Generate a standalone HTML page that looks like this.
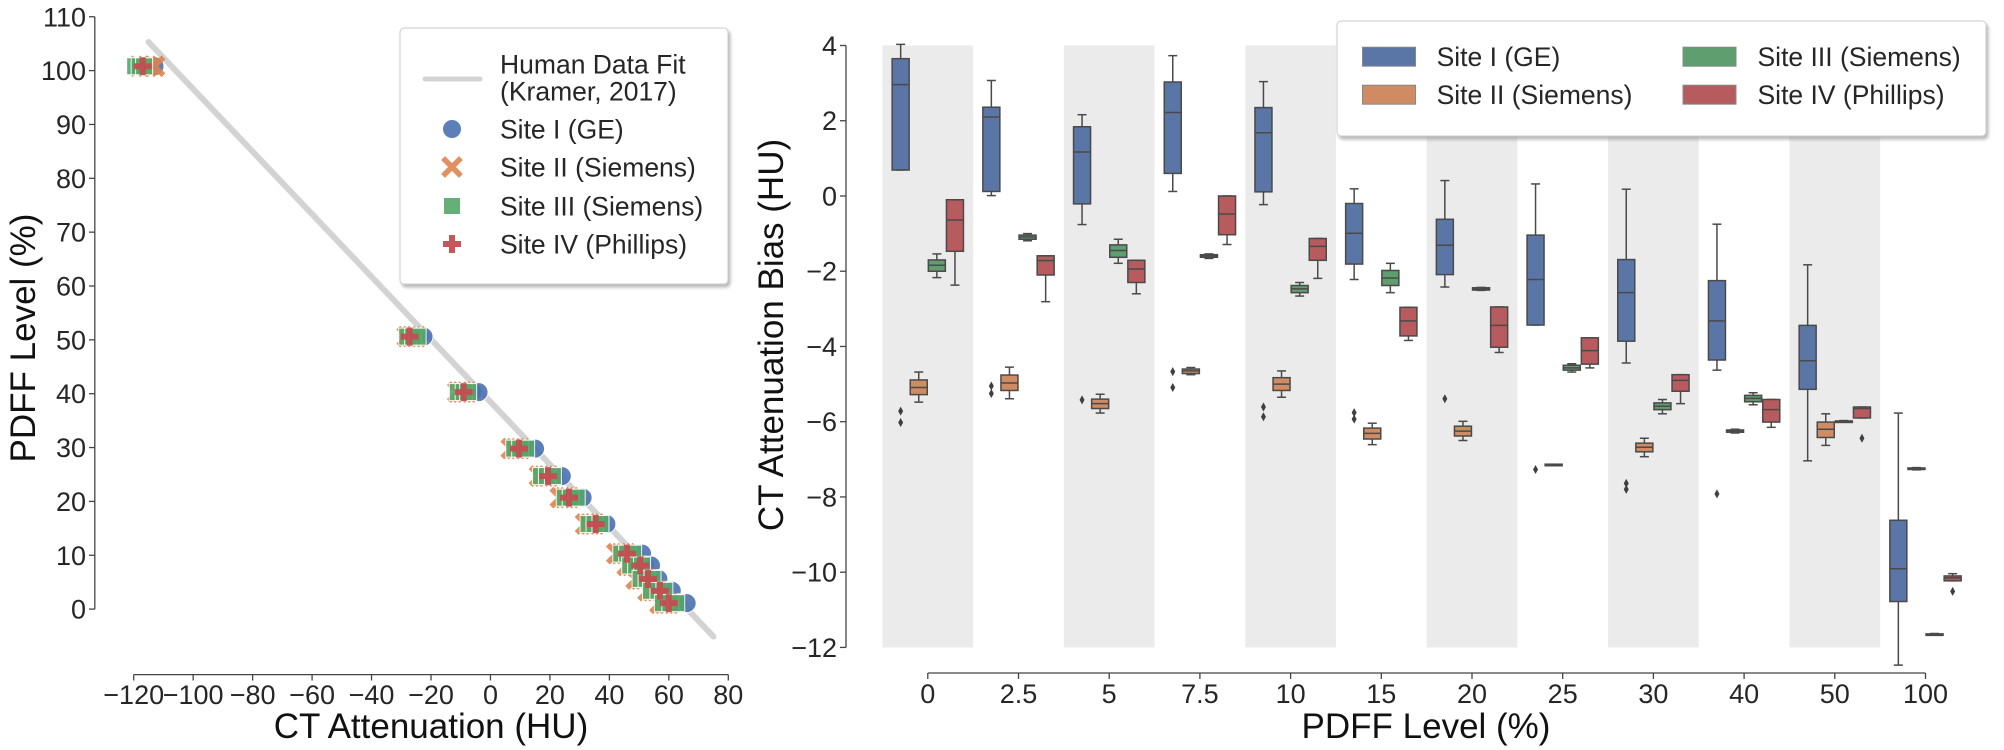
<!DOCTYPE html>
<html><head><meta charset="utf-8"><style>
html,body{margin:0;padding:0;background:#fff}
svg{display:block;font-family:"Liberation Sans",sans-serif}
</style></head><body>
<svg id="fig" width="2004" height="750" viewBox="0 0 2004 750" xmlns="http://www.w3.org/2000/svg">
<defs>
<filter id="sh" x="-5%" y="-5%" width="115%" height="125%"><feDropShadow dx="2" dy="3" stdDeviation="1.5" flood-color="#888" flood-opacity="0.6"/></filter>
</defs>
<g id="left"></g>
<g id="right"></g>
</svg>
<script>
// ===== Left scatter data =====
const pdffLevels = [100.8, 50.6, 40.3, 29.8, 24.7, 20.7, 15.8, 10.3, 8.1, 5.6, 3.4, 1.1];
const siteGE = [[-117,-115,-113],[-25.5,-24,-22.5],[-8,-6,-4],[10,12.5,15],[19,21.5,24],[27,29,31],[35,37,39],[46,48.5,51],[50,52,54],[52.5,54.5,56.5],[56,58.5,61],[60,63,66]];
const siteSiemensII = [[-118,-115.5,-113],[-28,-26.5,-25],[-11,-9.5,-8],[7,8.5,10],[16.5,18,19.5],[23.5,25,26.5],[32,33.5,35],[42.5,44,45.5],[46,47.5,49],[49,50.5,52],[53,54.5,56],[57,58.5,60]];
const siteSiemensIII = [[-119.5,-118,-116.5],[-28,-26,-24.5],[-11,-9,-7.5],[8,10,12],[17,19,21],[25,27,29],[33,35,37],[44,46,48],[47,49,51],[50.5,52.5,54.5],[54,56.5,58.5],[58,60.5,62.5]];
const sitePhillips = [[-117],[-27.2],[-9],[9.6],[19.4],[26.4],[35.4],[45.9],[50.4],[53],[57],[60]];
const fitX = [-115, 75];
const fitY = [105.3, -5.1];
const leftXTicks = [-120,-100,-80,-60,-40,-20,0,20,40,60,80];
const leftYTicks = [0,10,20,30,40,50,60,70,80,90,100,110];

// ===== Right boxplot data =====
const categories = ["0","2.5","5","7.5","10","15","20","25","30","40","50","100"];
const geQ1  = [0.69,0.12,-0.21,0.60,0.11,-1.81,-2.09,-3.43,-3.86,-4.36,-5.14,-10.78];
const geMed = [2.96,2.10,1.17,2.22,1.68,-0.99,-1.31,-2.22,-2.57,-3.32,-4.38,-9.91];
const geQ3  = [3.65,2.36,1.84,3.03,2.35,-0.20,-0.62,-1.04,-1.69,-2.25,-3.44,-8.62];
const geLo  = [0.69,0.01,-0.76,0.12,-0.23,-2.22,-2.42,-3.43,-4.44,-4.63,-7.04,-12.47];
const geHi  = [4.03,3.07,2.16,3.73,3.04,0.19,0.41,0.32,0.18,-0.75,-1.83,-5.77];
const geOut = [[-5.72,-6.02],[-5.05,-5.25],[-5.42],[-4.67,-5.09],[-5.61,-5.87],[-5.76,-5.93],[-5.39],[-7.27],[-7.64,-7.80],[-7.92],[],[]];
const s2Q1  = [-5.28,-5.17,-5.65,-4.72,-5.17,-6.46,-6.38,-7.17,-6.80,-6.28,-6.42,-7.27];
const s2Med = [-5.09,-4.97,-5.52,-4.65,-5.00,-6.31,-6.25,-7.15,-6.68,-6.25,-6.20,-7.25];
const s2Q3  = [-4.89,-4.76,-5.40,-4.60,-4.83,-6.17,-6.12,-7.13,-6.57,-6.22,-6.01,-7.23];
const s2Lo  = [-5.48,-5.39,-5.77,-4.75,-5.35,-6.61,-6.50,-7.17,-6.93,-6.30,-6.63,-7.28];
const s2Hi  = [-4.68,-4.55,-5.27,-4.56,-4.65,-6.04,-5.99,-7.13,-6.44,-6.20,-5.79,-7.22];
const s2Out = [[],[],[],[],[],[],[],[],[],[],[],[]];
const s3Q1  = [-2.00,-1.15,-1.63,-1.63,-2.57,-2.38,-2.50,-4.63,-5.68,-5.47,-6.00,-11.66];
const s3Med = [-1.84,-1.09,-1.45,-1.59,-2.47,-2.18,-2.47,-4.57,-5.59,-5.38,-5.99,-11.65];
const s3Q3  = [-1.70,-1.04,-1.30,-1.56,-2.38,-1.98,-2.44,-4.50,-5.50,-5.30,-5.98,-11.64];
const s3Lo  = [-2.17,-1.19,-1.79,-1.66,-2.66,-2.57,-2.51,-4.68,-5.79,-5.55,-6.00,-11.67];
const s3Hi  = [-1.54,-1.00,-1.15,-1.54,-2.30,-1.79,-2.43,-4.46,-5.41,-5.23,-5.97,-11.63];
const s3Out = [[],[],[],[],[],[],[],[],[],[],[],[]];
const s4Q1  = [-1.47,-2.10,-2.30,-1.03,-1.71,-3.72,-4.02,-4.47,-5.19,-6.01,-5.90,-10.23];
const s4Med = [-0.64,-1.72,-1.94,-0.48,-1.34,-3.32,-3.44,-4.11,-4.90,-5.68,-5.65,-10.15];
const s4Q3  = [-0.10,-1.59,-1.71,0.00,-1.13,-2.96,-2.95,-3.77,-4.75,-5.41,-5.61,-10.10];
const s4Lo  = [-2.37,-2.81,-2.60,-1.29,-2.19,-3.84,-4.16,-4.57,-5.52,-6.15,-5.90,-10.23];
const s4Hi  = [-0.10,-1.59,-1.71,0.00,-1.13,-2.96,-2.95,-3.77,-4.75,-5.41,-5.61,-10.04];
const s4Out = [[],[],[],[],[],[],[],[],[],[],[-6.44],[-10.51]];
const rightYTicks = [4,2,0,-2,-4,-6,-8,-10,-12];

const NS = "http://www.w3.org/2000/svg";
function mk(parent, tag, attrs, text){
  const e = document.createElementNS(NS, tag);
  for (const k in attrs) e.setAttribute(k, attrs[k]);
  if (text !== undefined) e.textContent = text;
  parent.appendChild(e);
  return e;
}
function fmt(v){ return (v<0 ? "\u2212" + Math.abs(v) : String(v)); }

// ---------- Left chart ----------
const L = document.getElementById('left');
const xL = v => 133.7 + (v + 120) * 2.973;
const yL = v => 609.1 - v * 5.385;

let el;
el = mk(L,'line',{x1:xL(fitX[0]),y1:yL(fitY[0]),x2:xL(fitX[1]),y2:yL(fitY[1]),stroke:'#d3d3d3','stroke-width':6,'stroke-linecap':'round'});



const C = {b:'#4c72b0', o:'#dd8452', g:'#55a868', r:'#c44e52'};
function circle(g,x,y){ return mk(g,'circle',{cx:x,cy:y,r:9.5,fill:C.b,stroke:'#fff','stroke-width':1,opacity:0.9});}
function xmark(g,x,y){ const s=7; return mk(g,'path',{d:`M${x-s},${y-s}L${x+s},${y+s}M${x-s},${y+s}L${x+s},${y-s}`,stroke:C.o,'stroke-width':5.5,'stroke-linecap':'square',opacity:0.9});}
function square(g,x,y){ return mk(g,'rect',{x:x-8.5,y:y-8.5,width:17,height:17,fill:C.g,stroke:'#fff','stroke-width':1,opacity:0.9});}
function plus(g,x,y){ const s=9; return mk(g,'path',{d:`M${x-s},${y}L${x+s},${y}M${x},${y-s}L${x},${y+s}`,stroke:C.r,'stroke-width':6,opacity:0.95});}

const sets = [[siteGE,circle,'site-i-point'],[siteSiemensII,xmark,'site-ii-point'],[siteSiemensIII,square,'site-iii-point'],[sitePhillips,plus,'site-iv-point']];
sets.forEach(([arr,fn,name])=>{
  const g = mk(L,'g',{});
  
  
  arr.forEach((xs,i)=>{ xs.forEach(xv=>{
    const e = fn(g, xL(xv), yL(pdffLevels[i]));
    
    
  });});
});

// axes left
el = mk(L,'line',{x1:94.8,y1:yL(110),x2:94.8,y2:yL(0),stroke:'#444','stroke-width':1.3});


leftYTicks.forEach(t=>{
  mk(L,'line',{x1:89,y1:yL(t),x2:94.8,y2:yL(t),stroke:'#444','stroke-width':1.3});
  const e = mk(L,'text',{x:86,y:yL(t)+9.5,'font-size':27,'text-anchor':'end',fill:'#262626'},fmt(t));
  
  
});
el = mk(L,'line',{x1:xL(-120),y1:674.6,x2:xL(80),y2:674.6,stroke:'#444','stroke-width':1.3});


leftXTicks.forEach(t=>{
  mk(L,'line',{x1:xL(t),y1:674.6,x2:xL(t),y2:680.5,stroke:'#444','stroke-width':1.3});
  const e = mk(L,'text',{x:xL(t),y:704,'font-size':27,'text-anchor':'middle',fill:'#262626'},fmt(t));
  
  
});
el = mk(L,'text',{x:431,y:738,'font-size':35,'text-anchor':'middle',fill:'#111'},'CT Attenuation (HU)');


el = mk(L,'text',{x:0,y:0,'font-size':35,'text-anchor':'middle',fill:'#111',transform:'translate(35,338) rotate(-90)'},'PDFF Level (%)');



// left legend
const LG = mk(L,'g',{});


mk(LG,'rect',{x:400,y:28,width:328,height:256,rx:4,fill:'#fff',stroke:'#ccc','stroke-width':1,filter:'url(#sh)'});
mk(LG,'line',{x1:425,y1:79,x2:480,y2:79,stroke:'#d3d3d3','stroke-width':5,'stroke-linecap':'round'});
circle(LG,452,129); xmark(LG,452,167); square(LG,452,206); plus(LG,452,244);
[['Human Data Fit',64],['(Kramer, 2017)',91],['Site I (GE)',129],['Site II (Siemens)',167],['Site III (Siemens)',206],['Site IV (Phillips)',244]].forEach(([t,y])=>{
  const e = mk(LG,'text',{x:500,y:y+9.5,'font-size':26.5,fill:'#262626'},t);
  
  
});

// ---------- Right chart ----------
const R = document.getElementById('right');
const catW = 90.7;
const xR = (c,h) => 927.8 + c * catW + (h - 1.5) * 18.1;
const yR = v => 45.5 + (4 - v) * 37.62;

categories.forEach((c,i)=>{
  if (i % 2 === 0){
    const e = mk(R,'rect',{x:xR(i,1.5)-catW/2,y:yR(4),width:catW,height:yR(-12)-yR(4),fill:'#ebebeb'});
    
    
  }
});

const fills = ['#5a76a6','#d08b63','#5f9e6e','#b75b5e'];
const series = [
  [geQ1,geMed,geQ3,geLo,geHi,geOut,'site-i'],
  [s2Q1,s2Med,s2Q3,s2Lo,s2Hi,s2Out,'site-ii'],
  [s3Q1,s3Med,s3Q3,s3Lo,s3Hi,s3Out,'site-iii'],
  [s4Q1,s4Med,s4Q3,s4Lo,s4Hi,s4Out,'site-iv']
];
const edge = '#4a4a4a';
series.forEach(([q1,md,q3,lo,hi,out,name],h)=>{
  categories.forEach((c,i)=>{
    const g = mk(R,'g',{});
    
    
    const cx = xR(i,h), bw = 17;
    mk(g,'line',{x1:cx,y1:yR(q3[i]),x2:cx,y2:yR(hi[i]),stroke:edge,'stroke-width':1.5});
    mk(g,'line',{x1:cx,y1:yR(q1[i]),x2:cx,y2:yR(lo[i]),stroke:edge,'stroke-width':1.5});
    mk(g,'line',{x1:cx-4.5,y1:yR(hi[i]),x2:cx+4.5,y2:yR(hi[i]),stroke:edge,'stroke-width':1.5});
    mk(g,'line',{x1:cx-4.5,y1:yR(lo[i]),x2:cx+4.5,y2:yR(lo[i]),stroke:edge,'stroke-width':1.5});
    const top = yR(q3[i]), bot = yR(q1[i]);
    mk(g,'rect',{x:cx-bw/2,y:top,width:bw,height:Math.max(bot-top,1.5),fill:fills[h],stroke:edge,'stroke-width':1.5});
    mk(g,'line',{x1:cx-bw/2,y1:yR(md[i]),x2:cx+bw/2,y2:yR(md[i]),stroke:edge,'stroke-width':1.5});
    out[i].forEach(v=>{
      const d = mk(g,'path',{d:`M${cx},${yR(v)-4.5}L${cx+2.5},${yR(v)}L${cx},${yR(v)+4.5}L${cx-2.5},${yR(v)}Z`,fill:'#3f3f3f'});
      
      
    });
  });
});

// right axes
el = mk(R,'line',{x1:846,y1:yR(4),x2:846,y2:yR(-12),stroke:'#444','stroke-width':1.3});


rightYTicks.forEach(t=>{
  mk(R,'line',{x1:840,y1:yR(t),x2:846,y2:yR(t),stroke:'#444','stroke-width':1.3});
  const e = mk(R,'text',{x:837,y:yR(t)+9.5,'font-size':27,'text-anchor':'end',fill:'#262626'},fmt(t));
  
  
});
el = mk(R,'line',{x1:xR(0,1.5),y1:673,x2:xR(11,1.5),y2:673,stroke:'#444','stroke-width':1.3});


categories.forEach((c,i)=>{
  mk(R,'line',{x1:xR(i,1.5),y1:673,x2:xR(i,1.5),y2:679,stroke:'#444','stroke-width':1.3});
  const e = mk(R,'text',{x:xR(i,1.5),y:703,'font-size':27,'text-anchor':'middle',fill:'#262626'},c);
  
  
});
el = mk(R,'text',{x:1426,y:738,'font-size':35,'text-anchor':'middle',fill:'#111'},'PDFF Level (%)');


el = mk(R,'text',{x:0,y:0,'font-size':35,'text-anchor':'middle',fill:'#111',transform:'translate(783,335) rotate(-90)'},'CT Attenuation Bias (HU)');



// right legend
const RG = mk(R,'g',{});


mk(RG,'rect',{x:1337,y:21,width:649,height:115,rx:4,fill:'#fff',stroke:'#ccc','stroke-width':1,filter:'url(#sh)'});
[['Site I (GE)',1362.5,1436.6,56.7,0],['Site II (Siemens)',1362.5,1436.6,94.7,1],['Site III (Siemens)',1683,1757.5,56.7,2],['Site IV (Phillips)',1683,1757.5,94.7,3]].forEach(([t,px,tx,cy,h])=>{
  mk(RG,'rect',{x:px,y:cy-9.5,width:53,height:19,fill:fills[h],stroke:'#888','stroke-width':1});
  const e = mk(RG,'text',{x:tx,y:cy+9.5,'font-size':26.5,fill:'#262626'},t);
  
  
});
</script>
</body></html>
